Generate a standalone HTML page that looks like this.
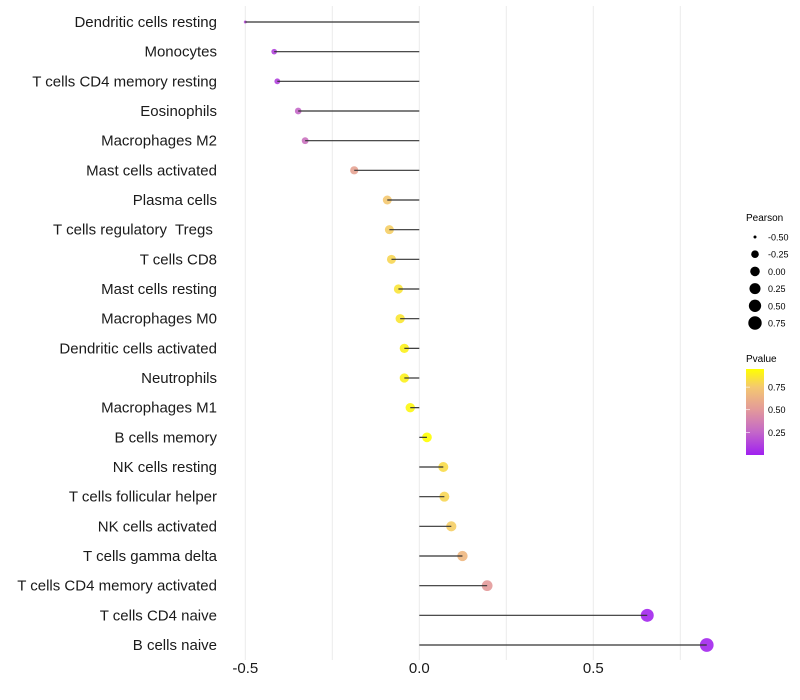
<!DOCTYPE html>
<html><head><meta charset="utf-8"><style>
html,body{margin:0;padding:0;background:#fff;}
svg{display:block;font-family:"Liberation Sans",sans-serif;}
</style></head><body>
<svg id="chart" width="800" height="700" viewBox="0 0 800 700">
<defs><linearGradient id="pg" x1="0" y1="1" x2="0" y2="0">
<stop offset="0" stop-color="#a020f0"/><stop offset="0.27" stop-color="#c468c8"/><stop offset="0.53" stop-color="#e39a9a"/><stop offset="0.79" stop-color="#f4c870"/><stop offset="1" stop-color="#ffff00"/></linearGradient></defs>
<g id="grid"></g>
<g id="marks"></g>
<g id="labels"></g>
<g id="xticks"></g>
<g id="legend">
<text x="746" y="221" font-size="10">Pearson</text>
<g id="sizeleg"></g>
<text x="746" y="362" font-size="10">Pvalue</text>
<rect x="746" y="369" width="18" height="86" fill="url(#pg)"/>
<g id="colleg"></g>
</g>
</svg>
<script>
const categories=["Dendritic cells resting","Monocytes","T cells CD4 memory resting","Eosinophils","Macrophages M2","Mast cells activated","Plasma cells","T cells regulatory  Tregs ","T cells CD8","Mast cells resting","Macrophages M0","Dendritic cells activated","Neutrophils","Macrophages M1","B cells memory","NK cells resting","T cells follicular helper","NK cells activated","T cells gamma delta","T cells CD4 memory activated","T cells CD4 naive","B cells naive"];
const pearson=[-0.50,-0.417,-0.408,-0.348,-0.328,-0.187,-0.092,-0.086,-0.080,-0.060,-0.055,-0.043,-0.043,-0.026,0.022,0.069,0.072,0.092,0.124,0.195,0.655,0.826];
const pvalue=[0.15,0.12,0.12,0.25,0.3,0.55,0.75,0.77,0.8,0.85,0.86,0.9,0.9,0.92,0.97,0.82,0.8,0.77,0.66,0.5,0.02,0.02];
const xTicks=[-0.5,0,0.5];
const xTickLabels=["-0.5","0.0","0.5"];
const sizeLegendValues=[-0.5,-0.25,0,0.25,0.5,0.75];
const sizeLegendLabels=["-0.50","-0.25","0.00","0.25","0.50","0.75"];
const colorTicks=[0.25,0.5,0.75];
const colorTickLabels=["0.25","0.50","0.75"];

const NS="http://www.w3.org/2000/svg";
const xs=v=>419.3+v*348;
const ys=i=>22+i*(623/21);
const rs=v=>1.5+5.2*Math.sqrt(Math.max(0,(v+0.5)/1.25));
const stops=[[0,[160,32,240]],[0.25,[196,104,200]],[0.5,[227,154,154]],[0.75,[244,200,112]],[0.95,[255,255,0]]];
function col(p){p=Math.max(0,Math.min(0.95,p));for(let k=1;k<stops.length;k++){if(p<=stops[k][0]){const a=stops[k-1],b=stops[k],t=(p-a[0])/(b[0]-a[0]);return "rgb("+a[1].map((c,j)=>Math.round(c+(b[1][j]-c)*t)).join(",")+")";}}return "rgb(255,255,0)";}
function mk(t,a,parent){const e=document.createElementNS(NS,t);for(const k in a)e.setAttribute(k,a[k]);parent.appendChild(e);return e;}
const grid=document.getElementById("grid");
[-0.5,-0.25,0,0.25,0.5,0.75].forEach(v=>{
 const l=mk("line",{x1:xs(v),x2:xs(v),y1:6,y2:660,stroke:"#ebebeb","stroke-width":1},grid);
 
 
});
const marks=document.getElementById("marks"),labels=document.getElementById("labels");
categories.forEach((c,i)=>{
 const y=ys(i);
 const dot=mk("circle",{cx:xs(pearson[i]),cy:y,r:rs(pearson[i]),fill:col(pvalue[i]),"fill-opacity":0.9},marks);
 
 
 const seg=mk("line",{x1:xs(0),x2:xs(pearson[i]),y1:y,y2:y,stroke:"#333","stroke-width":1.2},marks);
 
 
 const t=mk("text",{x:217,y:y+5,"text-anchor":"end","font-size":15,fill:"#1a1a1a",style:"white-space:pre"},labels);
 t.textContent=c;
 
 
});
const xt=document.getElementById("xticks");
xTicks.forEach((v,i)=>{
 const t=mk("text",{x:xs(v),y:673,"text-anchor":"middle","font-size":15,fill:"#1a1a1a"},xt);
 t.textContent=xTickLabels[i];
 
 
});
const sl=document.getElementById("sizeleg");
sizeLegendValues.forEach((v,i)=>{
 const y=237+i*17.2;
 const c=mk("circle",{cx:755,cy:y,r:rs(v)},sl);
 
 
 const t=mk("text",{x:768,y:y+3.5,"font-size":9},sl);
 t.textContent=sizeLegendLabels[i];
 
 
});
const cl=document.getElementById("colleg");
colorTicks.forEach((v,i)=>{
 const y=455-v/0.95*86;
 const l=mk("line",{x1:746,x2:750,y1:y,y2:y,stroke:"#fff","stroke-width":0.6},cl);
 
 
 const t=mk("text",{x:768,y:y+3.5,"font-size":9},cl);
 t.textContent=colorTickLabels[i];
 
 
});
</script>
</body></html>
